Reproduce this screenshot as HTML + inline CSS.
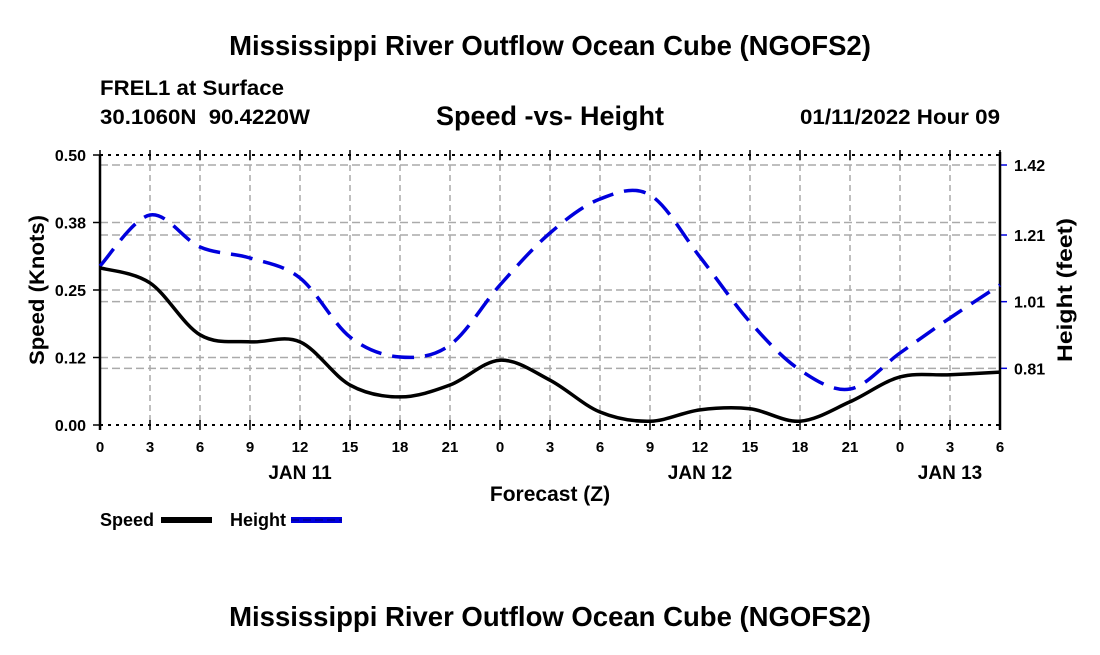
<!DOCTYPE html>
<html><head><meta charset="utf-8"><style>
body{margin:0;background:#fff;}
svg text{font-family:"Liberation Sans",Arial,sans-serif;font-weight:bold;fill:#000;white-space:pre;}
</style></head><body>
<svg id="chart" width="1100" height="650" xmlns="http://www.w3.org/2000/svg">
<text x="550" y="55" font-size="27.5" text-anchor="middle">Mississippi River Outflow Ocean Cube (NGOFS2)</text>
<text x="100" y="95" font-size="21" textLength="184" lengthAdjust="spacingAndGlyphs">FREL1 at Surface</text>
<text x="100" y="124" font-size="21" textLength="210" lengthAdjust="spacingAndGlyphs">30.1060N  90.4220W</text>
<text x="550" y="125" font-size="27" text-anchor="middle">Speed -vs- Height</text>
<text x="1000" y="124" font-size="21" text-anchor="end" textLength="200" lengthAdjust="spacingAndGlyphs">01/11/2022 Hour 09</text>
<g id="grid"></g>
<g id="axes"></g>
<g id="series"></g>
<text transform="translate(44,290) rotate(-90)" font-size="21" text-anchor="middle" textLength="150" lengthAdjust="spacingAndGlyphs">Speed (Knots)</text>
<text transform="translate(1072,290) rotate(-90)" font-size="21" text-anchor="middle" textLength="144" lengthAdjust="spacingAndGlyphs">Height (feet)</text>
<text x="550" y="501" font-size="21" text-anchor="middle">Forecast (Z)</text>
<text x="100" y="526" font-size="18">Speed</text>
<rect x="161" y="517" width="51" height="6" fill="#000"/>
<text x="230" y="526" font-size="18">Height</text>
<rect x="291" y="517" width="51" height="6" fill="#0000dd"/>
<line x1="291" y1="520" x2="342" y2="520" stroke="#000" stroke-width="1" stroke-dasharray="8,4" opacity="0.5"/>
<text x="550" y="626" font-size="27.5" text-anchor="middle">Mississippi River Outflow Ocean Cube (NGOFS2)</text>
</svg>
<script>
const hours=[0,3,6,9,12,15,18,21,24,27,30,33,36,39,42,45,48,51,54];
const speedValues=[0.291,0.263,0.167,0.154,0.154,0.074,0.052,0.074,0.120,0.083,0.024,0.007,0.028,0.030,0.007,0.043,0.089,0.093,0.098];
const heightHours=[0,3,6,9,12,15,18,21,24,27,30,33,36,39,42,45,48,51,54];
const heightValues=[1.117,1.27,1.174,1.141,1.081,0.904,0.844,0.88,1.06,1.216,1.318,1.33,1.144,0.949,0.805,0.748,0.856,0.961,1.06];
const xTickLabels=["0","3","6","9","12","15","18","21","0","3","6","9","12","15","18","21","0","3","6"];
const dayLabels=["JAN 11","JAN 12","JAN 13"];
const dayHours=[12,36,51];
const leftTicks=[0,0.125,0.25,0.375,0.5];
const leftTickLabels=["0.00","0.12","0.25","0.38","0.50"];
const rightTicks=[0.81,1.01,1.21,1.42];
const rightTickLabels=["0.81","1.01","1.21","1.42"];

const X0=100,X1=1000,Y0=425,Y1=155;
const xs=h=>X0+(h/54)*(X1-X0);
const ys=v=>Y0-(v/0.5)*(Y0-Y1);
const H0=0.64,H1=1.45;
const yh=v=>Y0-((v-H0)/(H1-H0))*(Y0-Y1);
const NS="http://www.w3.org/2000/svg";
function mk(tag,attrs,parent){const e=document.createElementNS(NS,tag);for(const k in attrs)e.setAttribute(k,attrs[k]);parent.appendChild(e);return e;}
const grid=document.getElementById('grid'),axes=document.getElementById('axes'),series=document.getElementById('series');
hours.forEach((h,i)=>{
  if(i>0&&i<hours.length-1){const g=mk('line',{x1:xs(h),y1:Y1,x2:xs(h),y2:Y0,stroke:'#aaa','stroke-width':1.5,'stroke-dasharray':'6,4'},grid);
  
  }
  [Y1,Y0].forEach(yy=>{const t=mk('line',{x1:xs(h),y1:yy-5,x2:xs(h),y2:yy+5,stroke:'#000','stroke-width':1.5},axes);
  
  });
  const l=mk('text',{x:xs(h),y:452,'font-size':15,'text-anchor':'middle'},axes);l.textContent=xTickLabels[i];
  
  
});
dayLabels.forEach((d,i)=>{const t=mk('text',{x:xs(dayHours[i]),y:479,'font-size':19,'text-anchor':'middle'},axes);t.textContent=d;
  
  });
leftTicks.forEach((v,i)=>{
  if(i>0&&i<leftTicks.length-1){const g=mk('line',{x1:X0,y1:ys(v),x2:X1,y2:ys(v),stroke:'#aaa','stroke-width':1.5,'stroke-dasharray':'8,4'},grid);
  
  }
  const t=mk('line',{x1:X0-7,y1:ys(v),x2:X0,y2:ys(v),stroke:'#000','stroke-width':1.5},axes);
  
  
  const l=mk('text',{x:86,y:ys(v)+6,'font-size':16,'text-anchor':'end'},axes);l.textContent=leftTickLabels[i];
  
  
});
rightTicks.forEach((v,i)=>{
  const g=mk('line',{x1:X0,y1:yh(v),x2:X1,y2:yh(v),stroke:'#aaa','stroke-width':1.5,'stroke-dasharray':'8,4'},grid);
  
  
  const t=mk('line',{x1:X1,y1:yh(v),x2:X1+7,y2:yh(v),stroke:'#0000dd','stroke-width':1.5},axes);
  
  
  const l=mk('text',{x:1014,y:yh(v)+6,'font-size':16},axes);l.textContent=rightTickLabels[i];
  
  
});
[[X0,Y1,X1,Y1,'3,5','top-axis'],[X0,Y0,X1,Y0,'3,5','bottom-axis']].forEach(a=>{
  const e=mk('line',{x1:a[0],y1:a[1],x2:a[2],y2:a[3],stroke:'#000','stroke-width':2,'stroke-dasharray':a[4]},axes);
  
  
});
const la=mk('line',{x1:X0,y1:Y1,x2:X0,y2:Y0+5,stroke:'#000','stroke-width':2.5},axes);


const ra=mk('line',{x1:X1,y1:Y1-3,x2:X1,y2:Y0+5,stroke:'#000','stroke-width':2.5},axes);


function smooth(pts){
  let d='M'+pts[0][0]+','+pts[0][1];
  for(let i=0;i<pts.length-1;i++){
    const p0=pts[i-1]||pts[i],p1=pts[i],p2=pts[i+1],p3=pts[i+2]||p2;
    const c1x=p1[0]+(p2[0]-p0[0])/6,c1y=p1[1]+(p2[1]-p0[1])/6;
    const c2x=p2[0]-(p3[0]-p1[0])/6,c2y=p2[1]-(p3[1]-p1[1])/6;
    d+=` C${c1x},${c1y} ${c2x},${c2y} ${p2[0]},${p2[1]}`;
  }
  return d;
}
const hp=mk('path',{d:smooth(heightHours.map((h,i)=>[xs(h),yh(heightValues[i])])),fill:'none',stroke:'#0000dd','stroke-width':3.5,'stroke-dasharray':'22,11'},series);


const sp=mk('path',{d:smooth(hours.map((h,i)=>[xs(h),ys(speedValues[i])])),fill:'none',stroke:'#000','stroke-width':3.5},series);


</script>
</body></html>
